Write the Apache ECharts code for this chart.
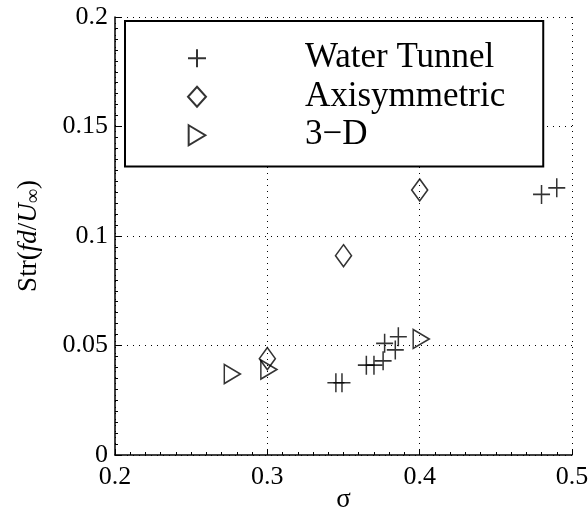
<!DOCTYPE html>
<html>
<head>
<meta charset="utf-8">
<script src="https://cdn.jsdelivr.net/npm/echarts@6/dist/echarts.min.js"></script>
<style>
  html, body { margin: 0; padding: 0; background: #fff; }
  #chart { width: 588px; height: 522px; }
</style>
</head>
<body>
<div id="chart"></div>
<script>
// values
var waterX = [0.345, 0.349, 0.365, 0.370, 0.376, 0.377, 0.384, 0.386, 0.480, 0.490];
var waterY = [0.033, 0.033, 0.041, 0.041, 0.043, 0.051, 0.048, 0.054, 0.119, 0.122];
var axiX = [0.300, 0.350, 0.400];
var axiY = [0.044, 0.091, 0.121];
var threeDX = [0.277, 0.301, 0.401];
var threeDY = [0.037, 0.039, 0.053];
var xTicks = [0.2, 0.3, 0.4, 0.5];
var yTicks = [0, 0.05, 0.1, 0.15, 0.2];

function pairs(xs, ys) {
  return xs.map(function (x, i) { return [x, ys[i]]; });
}

var serif = 'Liberation Serif';
var markerStyle = {
  color: 'transparent',
  borderColor: '#000',
  borderWidth: 1.6
};

var chart = echarts.init(document.getElementById('chart'));

chart.setOption({
  backgroundColor: '#fff',
  animation: false,
  grid: {
    left: 115,
    right: 16,
    top: 17,
    bottom: 67,
    outerBoundsMode: 'none'
  },
  legend: {
    orient: 'vertical',
    left: 125,
    top: 21,
    padding: [18, 38, 12, 62],
    itemWidth: 18,
    itemHeight: 20,
    itemGap: 0,
    backgroundColor: '#fff',
    borderColor: '#000',
    borderWidth: 2,
    borderRadius: 0,
    selectedMode: false,
    textStyle: {
      fontFamily: serif,
      fontSize: 35,
      color: '#000',
      lineHeight: 38.5,
      padding: [0, 0, 0, 94]
    },
    data: ['Water Tunnel', 'Axisymmetric', '3\u2212D']
  },
  xAxis: {
    type: 'value',
    min: 0.2,
    max: 0.5,
    interval: 0.1,
    name: '\u03c3',
    nameLocation: 'middle',
    nameGap: 31,
    nameMoveOverlap: false,
    nameTextStyle: { fontFamily: serif, fontSize: 27, color: '#000' },
    axisLine: { lineStyle: { color: '#000', width: 1.5 } },
    axisTick: { inside: true, length: 6, lineStyle: { color: '#000' } },
    minorTick: { show: true, splitNumber: 10, length: 3, lineStyle: { color: '#000' } },
    axisLabel: {
      fontFamily: serif, fontSize: 26, color: '#000', margin: 9,
      formatter: function (v) { return xTicks.indexOf(+v.toFixed(2)) >= 0 ? String(+v.toFixed(2)) : ''; }
    },
    splitLine: { show: true, lineStyle: { color: '#000', type: [1, 5], width: 1 } }
  },
  yAxis: {
    type: 'value',
    min: 0,
    max: 0.2,
    interval: 0.05,
    name: '{n|Str(}{i|fd}{n|/}{i|U}{s|\u221e}{n|)}',
    nameLocation: 'middle',
    nameGap: 71,
    nameMoveOverlap: false,
    nameTextStyle: {
      rich: {
        n: { fontFamily: serif, fontSize: 27, color: '#000' },
        i: { fontFamily: serif, fontSize: 27, color: '#000', fontStyle: 'italic' },
        s: { fontFamily: serif, fontSize: 20, color: '#000', padding: [11, 0, 0, 0] }
      }
    },
    axisLine: { lineStyle: { color: '#000', width: 1.5 } },
    axisTick: { inside: true, length: 6, lineStyle: { color: '#000' } },
    minorTick: { show: true, splitNumber: 10, length: 3, lineStyle: { color: '#000' } },
    axisLabel: {
      fontFamily: serif, fontSize: 26, color: '#000', margin: 7,
      formatter: function (v) { return yTicks.indexOf(+v.toFixed(2)) >= 0 ? String(+v.toFixed(2)) : ''; }
    },
    splitLine: { show: true, lineStyle: { color: '#000', type: [1, 5], width: 1 } }
  },
  series: [
    {
      name: 'Water Tunnel',
      type: 'scatter',
      symbol: 'path://M0,-10L0,10M-10,0L10,0',
      symbolSize: [17, 19],
      itemStyle: markerStyle,
      emphasis: { disabled: true },
      data: pairs(waterX, waterY)
    },
    {
      name: 'Axisymmetric',
      type: 'scatter',
      symbol: 'diamond',
      symbolSize: [16, 22],
      itemStyle: markerStyle,
      emphasis: { disabled: true },
      data: pairs(axiX, axiY)
    },
    {
      name: '3\u2212D',
      type: 'scatter',
      symbol: 'path://M0,0L10,6L0,12Z',
      symbolSize: [16, 19],
      itemStyle: markerStyle,
      emphasis: { disabled: true },
      data: pairs(threeDX, threeDY)
    }
  ]
});
</script>
</body>
</html>
